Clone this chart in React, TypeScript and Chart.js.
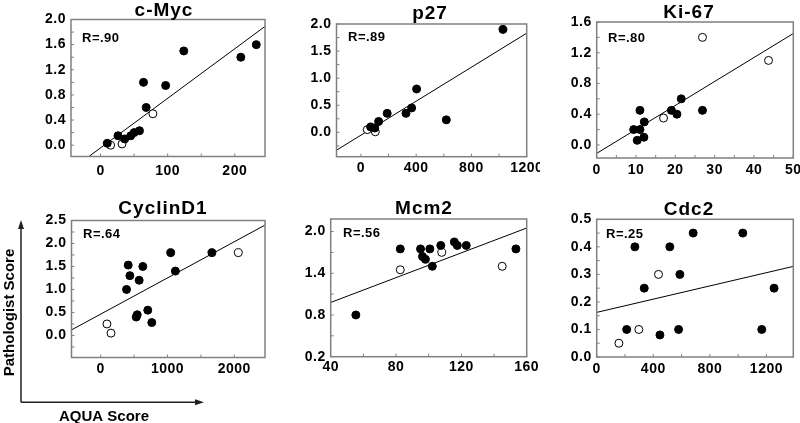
import React, { useEffect, useRef } from 'react';
import { Chart, registerables } from 'chart.js';

Chart.register(...registerables);

type Pt = number[];

// ---------------- c-Myc ----------------
const cMycSolid: Pt[] = [[10, 0.03], [26, 0.15], [36, 0.1], [45, 0.15], [50, 0.2], [58, 0.23], [64, 1.0], [68, 0.6], [97, 0.95], [124, 1.5], [209, 1.4], [232, 1.6]];
const cMycOpen: Pt[] = [[15, 0.0], [32, 0.02], [78, 0.5]];
const cMycFit: Pt[] = [[-44, -0.39], [245, 1.89]];
const cMycXTicks = [0, 100, 200];
const cMycXMinor = [50, 150];
const cMycYTicks = [0, 0.4, 0.8, 1.2, 1.6, 2.0];
const cMycYMinor = [0.2, 0.6, 1.0, 1.4, 1.8];

// ---------------- p27 ----------------
const p27Solid: Pt[] = [[70, 0.1], [100, 0.08], [128, 0.2], [190, 0.35], [326, 0.35], [367, 0.45], [403, 0.8], [618, 0.23], [1028, 1.9]];
const p27Open: Pt[] = [[46, 0.05], [104, 0.01]];
const p27Fit: Pt[] = [[-177, -0.33], [1200, 1.83]];
const p27XTicks = [0, 400, 800, 1200];
const p27XMinor = [200, 600, 1000];
const p27YTicks = [0, 0.5, 1.0, 1.5, 2.0];
const p27YMinor = [-0.25, 0.25, 0.75, 1.25, 1.75];

// ---------------- Ki-67 ----------------
const ki67Solid: Pt[] = [[9.4, 0.2], [10.3, 0.06], [11, 0.2], [11, 0.45], [12, 0.1], [12.1, 0.3], [19, 0.45], [20.4, 0.4], [21.5, 0.6], [26.9, 0.45]];
const ki67Open: Pt[] = [[17, 0.35], [26.9, 1.4], [43.7, 1.1]];
const ki67Fit: Pt[] = [[0, -0.11], [50, 1.45]];
const ki67XTicks = [0, 10, 20, 30, 40, 50];
const ki67XMinor = [5, 15, 25, 35, 45];
const ki67YTicks = [0, 0.4, 0.8, 1.2, 1.6];
const ki67YMinor = [0.2, 0.6, 1.0, 1.4];

// ---------------- CyclinD1 ----------------
const cycSolid: Pt[] = [[387, 1.0], [412, 1.53], [437, 1.3], [532, 0.4], [547, 0.45], [576, 1.2], [631, 1.5], [705, 0.55], [765, 0.28], [1048, 1.8], [1118, 1.4], [1665, 1.8]];
const cycOpen: Pt[] = [[94, 0.25], [154, 0.05], [2060, 1.8]];
const cycFit: Pt[] = [[-437, 0.12], [2460, 2.4]];
const cycXTicks = [0, 1000, 2000];
const cycXMinor = [500, 1500];
const cycYTicks = [0, 0.5, 1.0, 1.5, 2.0, 2.5];
const cycYMinor = [-0.25, 0.25, 0.75, 1.25, 1.75, 2.25];

// ---------------- Mcm2 ----------------
const mcmSolid: Pt[] = [[55.4, 0.8], [82.6, 1.75], [95, 1.75], [96.2, 1.64], [98, 1.6], [100.7, 1.75], [102.2, 1.5], [107.4, 1.8], [115.7, 1.85], [117.5, 1.8], [123, 1.8], [153.4, 1.75]];
const mcmOpen: Pt[] = [[82.6, 1.45], [108, 1.7], [145, 1.5]];
const mcmFit: Pt[] = [[40, 0.98], [160, 2.05]];
const mcmXTicks = [40, 80, 120, 160];
const mcmXMinor = [60, 100, 140];
const mcmYTicks = [0.2, 0.8, 1.4, 2.0];
const mcmYMinor = [0.5, 1.1, 1.7];

// ---------------- Cdc2 ----------------
const cdcSolid: Pt[] = [[212, 0.1], [270, 0.4], [336, 0.25], [447, 0.08], [517, 0.4], [579, 0.1], [588, 0.3], [682, 0.45], [1033, 0.45], [1167, 0.1], [1254, 0.25]];
const cdcOpen: Pt[] = [[157, 0.05], [298, 0.1], [437, 0.3]];
const cdcFit: Pt[] = [[0, 0.162], [1390, 0.329]];
const cdcXTicks = [0, 400, 800, 1200];
const cdcXMinor = [200, 600, 1000];
const cdcYTicks = [0, 0.1, 0.2, 0.3, 0.4, 0.5];
const cdcYMinor = [0.05, 0.15, 0.25, 0.35, 0.45];

const FONT = '"Liberation Sans", Arial, Helvetica, sans-serif';
const FRAME = '#808080';

const PANELS = [
  {
    title: 'c-Myc', r: 'R=.90', solid: cMycSolid, open: cMycOpen, fit: cMycFit,
    xMin: -44, xMax: 245, yMin: -0.18, yMax: 2.0,
    xTicks: cMycXTicks, xMinor: cMycXMinor, yTicks: cMycYTicks, yMinor: cMycYMinor,
    xDigits: 0, yDigits: 1, xPad: 6.5,
    box: { left: 0, top: 0, w: 270, h: 190 }, area: { l: 71, t: 19.5, r: 265, b: 156.5 },
    titlePos: [164, 16], rPos: [82, 41.7], axisLegend: false,
  },
  {
    title: 'p27', r: 'R=.89', solid: p27Solid, open: p27Open, fit: p27Fit,
    xMin: -177, xMax: 1200, yMin: -0.45, yMax: 2.0,
    xTicks: p27XTicks, xMinor: p27XMinor, yTicks: p27YTicks, yMinor: p27YMinor,
    xDigits: 0, yDigits: 1, xPad: 3.2,
    box: { left: 265, top: 0, w: 275, h: 190 }, area: { l: 336.5, t: 24, r: 526.7, b: 156.7 },
    titlePos: [430, 19], rPos: [348, 40.7], axisLegend: false,
  },
  {
    title: 'Ki-67', r: 'R=.80', solid: ki67Solid, open: ki67Open, fit: ki67Fit,
    xMin: 0, xMax: 50, yMin: -0.17, yMax: 1.6,
    xTicks: ki67XTicks, xMinor: ki67XMinor, yTicks: ki67YTicks, yMinor: ki67YMinor,
    xDigits: 0, yDigits: 1, xPad: 3.6,
    box: { left: 530, top: 0, w: 270, h: 190 }, area: { l: 596.7, t: 22, r: 793.3, b: 158 },
    titlePos: [689, 18.3], rPos: [608, 41.7], axisLegend: false,
  },
  {
    title: 'CyclinD1', r: 'R=.64', solid: cycSolid, open: cycOpen, fit: cycFit,
    xMin: -437, xMax: 2460, yMin: -0.48, yMax: 2.5,
    xTicks: cycXTicks, xMinor: cycXMinor, yTicks: cycYTicks, yMinor: cycYMinor,
    xDigits: 0, yDigits: 1, xPad: 3.2,
    box: { left: 0, top: 190, w: 270, h: 233 }, area: { l: 71.5, t: 220.5, r: 266, b: 357.5 },
    titlePos: [163, 213.5], rPos: [83, 238.3], axisLegend: true,
  },
  {
    title: 'Mcm2', r: 'R=.56', solid: mcmSolid, open: mcmOpen, fit: mcmFit,
    xMin: 40, xMax: 160, yMin: 0.2, yMax: 2.18,
    xTicks: mcmXTicks, xMinor: mcmXMinor, yTicks: mcmYTicks, yMinor: mcmYMinor,
    xDigits: 0, yDigits: 1, xPad: 1.8,
    box: { left: 265, top: 190, w: 275, h: 233 }, area: { l: 330.7, t: 219, r: 526.7, b: 356.7 },
    titlePos: [424, 214], rPos: [343, 237.3], axisLegend: false,
  },
  {
    title: 'Cdc2', r: 'R=.25', solid: cdcSolid, open: cdcOpen, fit: cdcFit,
    xMin: 0, xMax: 1390, yMin: 0, yMax: 0.5,
    xTicks: cdcXTicks, xMinor: cdcXMinor, yTicks: cdcYTicks, yMinor: cdcYMinor,
    xDigits: 0, yDigits: 1, xPad: 3.6,
    box: { left: 530, top: 190, w: 270, h: 233 }, area: { l: 596.7, t: 219.3, r: 793.3, b: 357 },
    titlePos: [689, 215], rPos: [606, 238.3], axisLegend: false,
  },
];

function PanelChart({ p }: { p: any }) {
  const ref = useRef<HTMLCanvasElement>(null);
  useEffect(() => {
    const canvas = ref.current;
    if (!canvas) return;
    const { box, area } = p;
    const L = area.l - box.left;
    const T = area.t - box.top;
    const R = box.left + box.w - area.r;
    const B = box.top + box.h - area.b;
    const toXY = (a: Pt[]) => a.map(([x, y]) => ({ x, y }));
    const tickFont = { family: FONT, size: 14, weight: 'bold' as const };

    const decor = {
      id: 'decor',
      beforeDraw(chart: any) {
        chart.ctx.letterSpacing = '0.5px';
      },
      afterDatasetsDraw(chart: any) {
        const ctx = chart.ctx;
        const ca = chart.chartArea;
        const xs = chart.scales.x;
        const ys = chart.scales.y;
        const ox = box.left;
        const oy = box.top;
        ctx.save();
        ctx.strokeStyle = FRAME;
        ctx.lineWidth = 1;
        ctx.beginPath();
        [...p.xTicks, ...p.xMinor].forEach((v: number) => {
          const px = xs.getPixelForValue(v);
          ctx.moveTo(px, ca.bottom);
          ctx.lineTo(px, ca.bottom - 3);
        });
        [...p.yTicks, ...p.yMinor].forEach((v: number) => {
          const py = ys.getPixelForValue(v);
          ctx.moveTo(ca.left, py);
          ctx.lineTo(ca.left + 3, py);
        });
        ctx.stroke();
        ctx.lineWidth = 1.5;
        ctx.strokeRect(ca.left, ca.top, ca.right - ca.left, ca.bottom - ca.top);

        ctx.fillStyle = '#000';
        ctx.letterSpacing = '1px';
        ctx.font = `bold 19px ${FONT}`;
        ctx.textAlign = 'center';
        ctx.textBaseline = 'alphabetic';
        ctx.fillText(p.title, p.titlePos[0] - ox, p.titlePos[1] - oy);

        ctx.letterSpacing = '0.5px';
        ctx.font = `bold 13px ${FONT}`;
        ctx.textAlign = 'left';
        ctx.fillText(p.r, p.rPos[0] - ox, p.rPos[1] - oy);
        ctx.letterSpacing = '0px';

        if (p.axisLegend) {
          // page coordinates converted to canvas coordinates
          const cornerY = 402.3 - oy;
          const topY = 220 - oy;
          ctx.strokeStyle = '#222';
          ctx.fillStyle = '#222';
          ctx.lineWidth = 1.5;
          ctx.beginPath();
          ctx.moveTo(21 - ox, cornerY);
          ctx.lineTo(21 - ox, topY + 7);
          ctx.moveTo(21 - ox, cornerY);
          ctx.lineTo(196 - ox, cornerY);
          ctx.stroke();
          ctx.beginPath();
          ctx.moveTo(21 - ox, topY);
          ctx.lineTo(18 - ox, topY + 9);
          ctx.lineTo(24 - ox, topY + 9);
          ctx.closePath();
          ctx.fill();
          ctx.beginPath();
          ctx.moveTo(204 - ox, cornerY);
          ctx.lineTo(195 - ox, cornerY - 3);
          ctx.lineTo(195 - ox, cornerY + 3);
          ctx.closePath();
          ctx.fill();

          ctx.fillStyle = '#000';
          ctx.font = `bold 15px ${FONT}`;
          ctx.textAlign = 'center';
          ctx.textBaseline = 'alphabetic';
          ctx.fillText('AQUA Score', 104 - ox, 420.5 - oy);
          ctx.save();
          ctx.translate(14 - ox, 312.5 - oy);
          ctx.rotate(-Math.PI / 2);
          ctx.fillText('Pathologist Score', 0, 0);
          ctx.restore();
        }
        ctx.restore();
      },
    };

    const chart = new Chart(canvas, {
      type: 'scatter',
      data: {
        datasets: [
          {
            data: toXY(p.solid), pointRadius: 4, pointBackgroundColor: '#000',
            pointBorderColor: '#000', pointBorderWidth: 1, showLine: false,
          },
          {
            data: toXY(p.open), pointRadius: 4, pointBackgroundColor: '#fff',
            pointBorderColor: '#000', pointBorderWidth: 1, showLine: false,
          },
          {
            data: toXY(p.fit), showLine: true, pointRadius: 0, borderColor: '#000',
            borderWidth: 1, fill: false,
          },
        ] as any,
      },
      options: {
        animation: false,
        responsive: false,
        events: [],
        layout: { padding: { top: T, right: R, left: 0, bottom: 0 } },
        plugins: { legend: { display: false }, tooltip: { enabled: false }, title: { display: false } },
        scales: {
          x: {
            type: 'linear', min: p.xMin, max: p.xMax,
            grid: { display: false, drawTicks: false, tickLength: 0 },
            border: { display: false },
            ticks: {
              font: tickFont, color: '#000', padding: p.xPad, maxRotation: 0, autoSkip: false,
              callback: (v: any) => Number(v).toFixed(p.xDigits),
            },
            afterBuildTicks: (s: any) => { s.ticks = p.xTicks.map((v: number) => ({ value: v })); },
            afterFit: (s: any) => { s.height = B; s.paddingLeft = 0; s.paddingRight = 0; },
          },
          y: {
            type: 'linear', min: p.yMin, max: p.yMax,
            grid: { display: false, drawTicks: false, tickLength: 0 },
            border: { display: false },
            ticks: {
              font: tickFont, color: '#000', padding: 5, autoSkip: false,
              callback: (v: any) => Number(v).toFixed(p.yDigits),
            },
            afterBuildTicks: (s: any) => { s.ticks = p.yTicks.map((v: number) => ({ value: v })); },
            afterFit: (s: any) => { s.width = L; s.paddingTop = 0; s.paddingBottom = 0; },
          },
        },
      } as any,
      plugins: [decor],
    });
    return () => chart.destroy();
  }, [p]);

  return (
    <canvas
      ref={ref}
      width={p.box.w}
      height={p.box.h}
      style={{ position: 'absolute', left: p.box.left, top: p.box.top, width: p.box.w, height: p.box.h }}
    />
  );
}

export default function App() {
  return (
    <div style={{ position: 'absolute', left: 0, top: 0, width: 800, height: 423, background: '#fff', overflow: 'hidden' }}>
      {PANELS.map((p) => (
        <PanelChart key={p.title} p={p} />
      ))}
    </div>
  );
}
